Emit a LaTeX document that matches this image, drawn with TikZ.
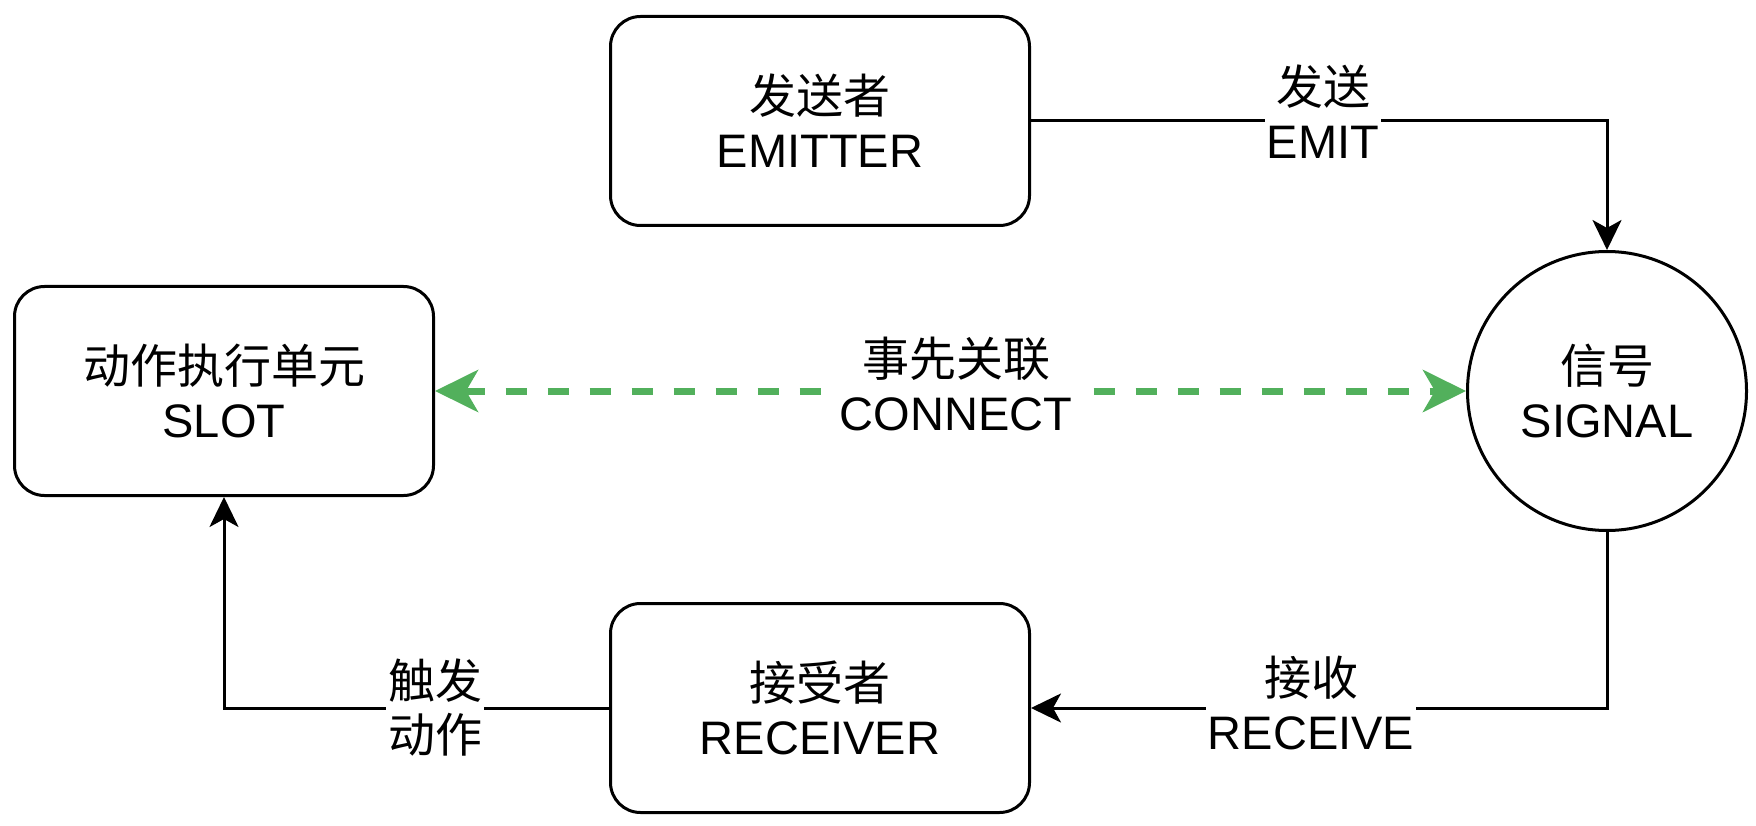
\documentclass[tikz,border=0pt]{standalone}
\usepackage{fontspec}
\setmainfont{Liberation Sans}
\newfontfamily\cjk{Noto Sans CJK SC}
\usetikzlibrary{arrows.meta}
\definecolor{conngreen}{RGB}{82,176,92}
\begin{document}
\begin{tikzpicture}[x=1pt,y=-1pt,
  txt/.style={font=\fontsize{47}{54}\selectfont, align=center},
  box/.style={txt, draw, line width=3pt, rounded corners=30pt, minimum width=419pt, minimum height=209pt, inner sep=0pt},
  sig/.style={txt, draw, circle, line width=3pt, minimum size=279pt, inner sep=0pt},
  conn/.style={line width=3pt, -{Stealth[length=30pt, width=29pt, inset=8pt]}},
  gconn/.style={conngreen, line width=7pt, dash pattern=on 21pt off 21pt,
     {Stealth[length=43pt, width=42pt, inset=12pt]}-{Stealth[length=43pt, width=42pt, inset=12pt]}},
  lbl/.style={txt, fill=white, inner xsep=2pt, inner ysep=0pt}]
\useasboundingbox (0,0) rectangle (1756,826);
\node[box] (emitter) at (820,121) {{\cjk 发送者}\\EMITTER};
\node[box] (slot) at (224,391) {{\cjk 动作执行单元}\\SLOT};
\node[box] (receiver) at (820,708) {{\cjk 接受者}\\RECEIVER};
\node[sig] (signal) at (1607,391) {{\cjk 信号}\\SIGNAL};
\draw[conn] (emitter.east) -| (signal.north);
\node[lbl] (lemit) at (1323,112) {{\cjk 发送}\\EMIT};
\draw[conn] (signal.south) |- (receiver.east);
\node[lbl] (lrecv) at (1311,703) {{\cjk 接收}\\RECEIVE};
\draw[conn] (receiver.west) -| (slot.south);
\node[lbl] (ltrig) at (435,708) {{\cjk 触发}\\{\cjk 动作}};
\draw[gconn] (slot.east) -- (signal.west);
\node[lbl] (lconn) at (956,384) {{\cjk 事先关联}\\CONNECT};
\end{tikzpicture}
\end{document}
